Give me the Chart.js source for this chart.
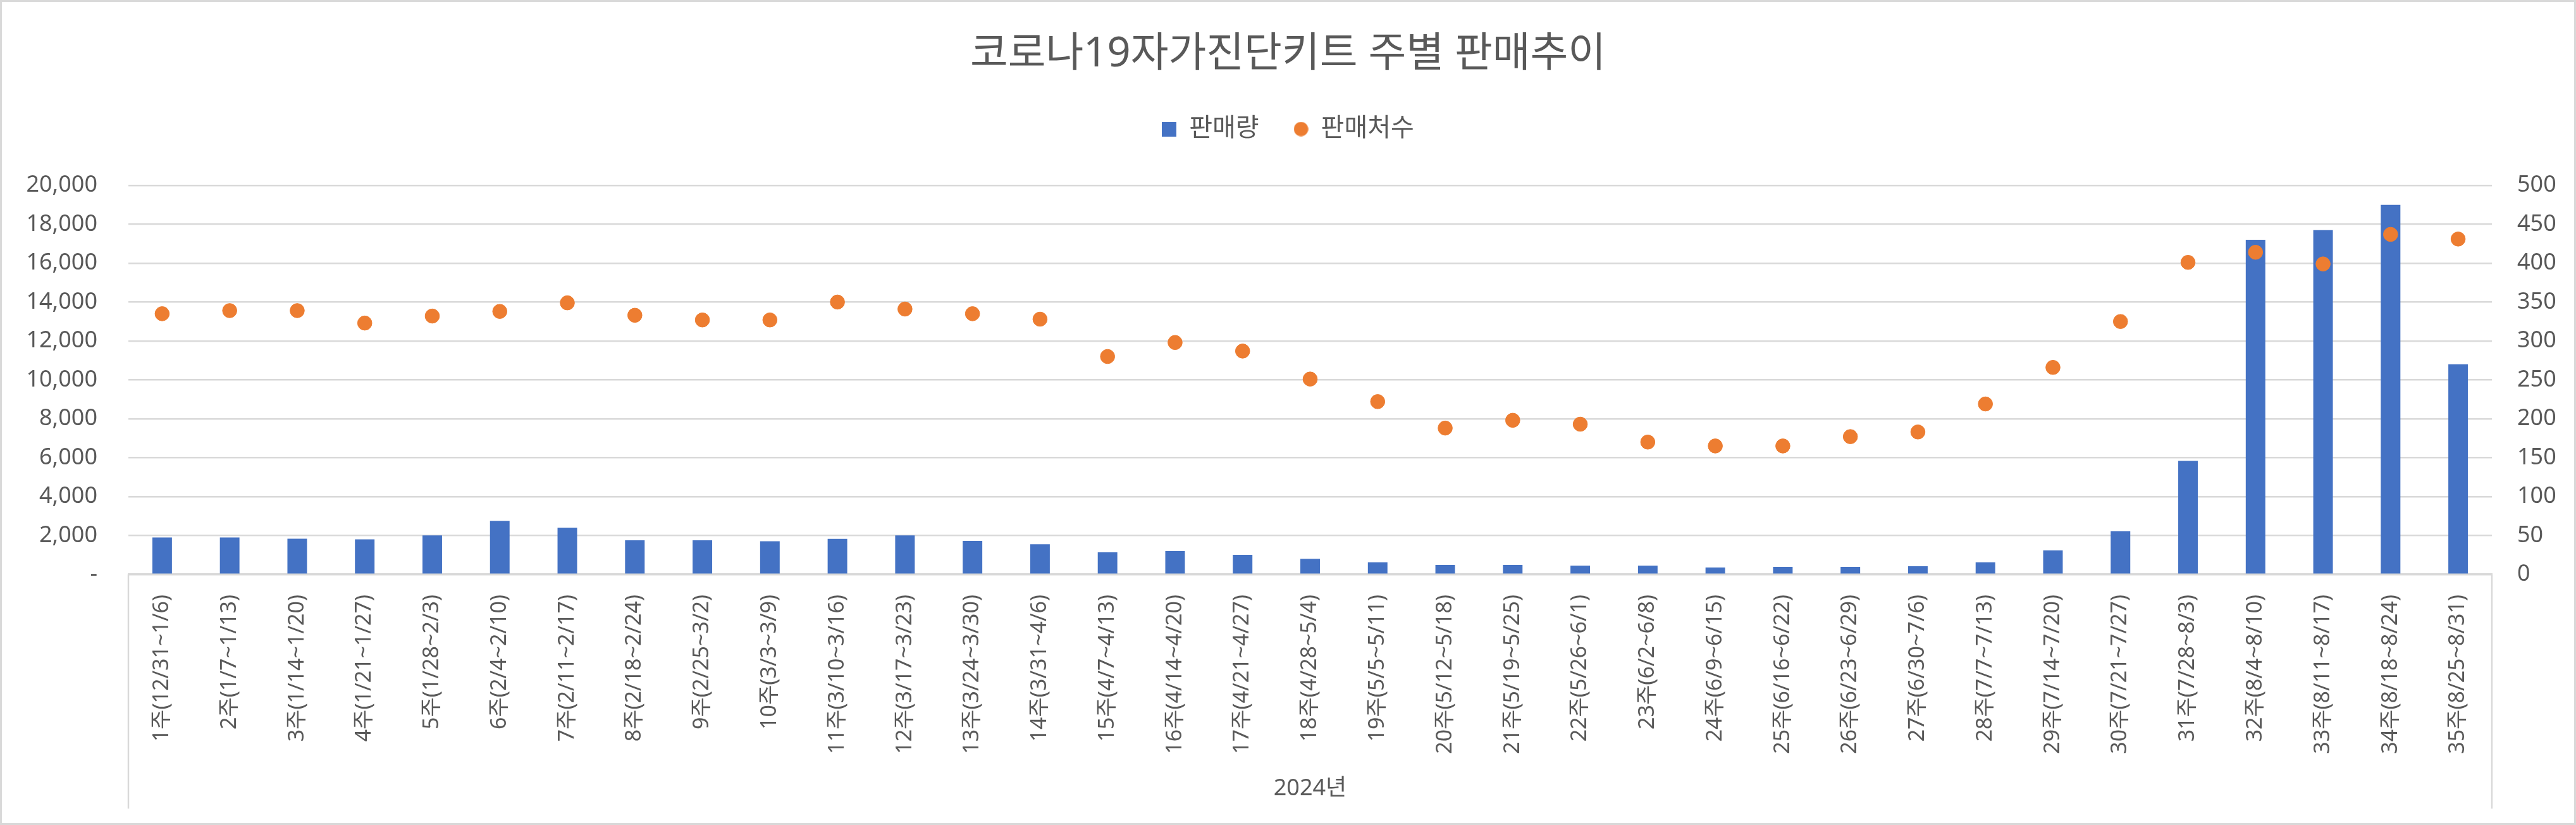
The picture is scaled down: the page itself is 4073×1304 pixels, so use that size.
<!DOCTYPE html>
<html lang="ko">
<head>
<meta charset="utf-8">
<title>코로나19자가진단키트 주별 판매추이</title>
<script src="https://cdn.jsdelivr.net/npm/chart.js@4.4.1/dist/chart.umd.min.js"></script>
<style>
  body { margin: 0; background: #fff; }
  #wrap { width: 4067px; height: 1298px; border: 3px solid #d9d9d9; }
</style>
</head>
<body>
<div id="wrap"><canvas id="salesChart" width="4067" height="1298"></canvas></div>
<script>
var weeks = [
    '1주(12/31~1/6)', '2주(1/7~1/13)', '3주(1/14~1/20)', '4주(1/21~1/27)', '5주(1/28~2/3)',
    '6주(2/4~2/10)', '7주(2/11~2/17)', '8주(2/18~2/24)', '9주(2/25~3/2)', '10주(3/3~3/9)',
    '11주(3/10~3/16)', '12주(3/17~3/23)', '13주(3/24~3/30)', '14주(3/31~4/6)', '15주(4/7~4/13)',
    '16주(4/14~4/20)', '17주(4/21~4/27)', '18주(4/28~5/4)', '19주(5/5~5/11)', '20주(5/12~5/18)',
    '21주(5/19~5/25)', '22주(5/26~6/1)', '23주(6/2~6/8)', '24주(6/9~6/15)', '25주(6/16~6/22)',
    '26주(6/23~6/29)', '27주(6/30~7/6)', '28주(7/7~7/13)', '29주(7/14~7/20)', '30주(7/21~7/27)',
    '31주(7/28~8/3)', '32주(8/4~8/10)', '33주(8/11~8/17)', '34주(8/18~8/24)', '35주(8/25~8/31)'
];

// 판매량 (left axis)
var salesVolume = [
    1900, 1900, 1830, 1800, 2000, 2750, 2400, 1750, 1750, 1700,
    1820, 2000, 1720, 1550, 1130, 1200, 1000, 800, 620, 480,
    480, 450, 450, 350, 380, 380, 420, 620, 1230, 2220,
    5830, 17200, 17700, 19000, 10800
];

// 판매처수 (right axis)
var storeCount = [
    335, 339, 339, 323, 332, 338, 349, 333, 327, 327,
    350, 341, 335, 328, 280, 298, 287, 251, 222, 188,
    198, 193, 170, 165, 165, 177, 183, 219, 266, 325,
    401, 414, 399, 437, 431
];

var yearLabel = '2024년';

var blue = '#4472C4';
var orange = '#ED7D31';
var textColor = '#595959';
var lineColor = '#d9d9d9';

function legendIcon(color, round) {
    var c = document.createElement('canvas');
    c.width = 23;
    c.height = 23;
    var g = c.getContext('2d');
    g.fillStyle = color;
    if (round) {
        g.beginPath();
        g.arc(11.5, 11.5, 11.3, 0, Math.PI * 2);
        g.fill();
    } else {
        g.fillRect(0, 0, 23, 23);
    }
    return c;
}
var icons = [legendIcon(blue, false), legendIcon(orange, true)];

// side lines of the category box under the plot
var categoryBox = {
    id: 'categoryBox',
    afterDraw: function(chart) {
        var ctx = chart.ctx;
        var area = chart.chartArea;
        var bottom = chart.scales.x.bottom + 10;
        ctx.save();
        ctx.strokeStyle = lineColor;
        ctx.lineWidth = 2.5;
        ctx.beginPath();
        ctx.moveTo(area.left, area.bottom);
        ctx.lineTo(area.left, bottom);
        ctx.moveTo(area.right, area.bottom);
        ctx.lineTo(area.right, bottom);
        ctx.stroke();
        ctx.restore();
    }
};

Chart.defaults.font.family = "'Noto Sans', 'Noto Sans CJK KR', sans-serif";
Chart.defaults.color = textColor;

var ctx = document.getElementById('salesChart').getContext('2d');

var salesChart = new Chart(ctx, {
    data: {
        labels: weeks,
        datasets: [{
            type: 'line',
            label: '판매처수',
            data: storeCount,
            yAxisID: 'y1',
            showLine: false,
            pointRadius: 11.3,
            pointHoverRadius: 11.3,
            pointBackgroundColor: orange,
            pointBorderColor: orange,
            backgroundColor: orange,
            borderColor: orange,
            order: 1
        }, {
            type: 'bar',
            label: '판매량',
            data: salesVolume,
            yAxisID: 'y',
            backgroundColor: blue,
            categoryPercentage: 1,
            barPercentage: 0.29,
            order: 2
        }]
    },
    options: {
        responsive: false,
        animation: false,
        layout: {
            padding: { left: 0, right: 0, top: 0, bottom: 33 }
        },
        plugins: {
            title: {
                display: true,
                text: '코로나19자가진단키트 주별 판매추이',
                color: textColor,
                font: { size: 65, weight: 'normal' },
                padding: { top: 44, bottom: 4 }
            },
            legend: {
                position: 'top',
                weight: 1800,
                reverse: true,
                labels: {
                    usePointStyle: true,
                    boxWidth: 23,
                    boxHeight: 23,
                    padding: 55,
                    color: textColor,
                    font: { size: 40 },
                    generateLabels: function(chart) {
                        var items = Chart.defaults.plugins.legend.labels.generateLabels(chart);
                        items.forEach(function(item) {
                            item.pointStyle = icons[item.datasetIndex === 1 ? 0 : 1];
                        });
                        return items;
                    }
                }
            },
            subtitle: {
                display: true,
                text: '',
                weight: 1200,
                font: { size: 10 },
                padding: { top: 47, bottom: 0 }
            },
            tooltip: { enabled: false }
        },
        scales: {
            x: {
                grid: { display: false },
                border: { display: true, color: lineColor, width: 3 },
                ticks: {
                    autoSkip: false,
                    minRotation: 90,
                    maxRotation: 90,
                    padding: 24,
                    color: textColor,
                    font: { size: 34 }
                },
                title: {
                    display: true,
                    text: yearLabel,
                    color: textColor,
                    font: { size: 36 },
                    padding: { top: 9, bottom: 0 }
                }
            },
            y: {
                position: 'left',
                min: 0,
                max: 20000,
                grid: { color: lineColor, lineWidth: 2.5, drawTicks: false },
                border: { display: false },
                ticks: {
                    stepSize: 2000,
                    padding: 49,
                    color: textColor,
                    font: { size: 36 },
                    callback: function(value) {
                        return value === 0 ? '-' : value.toLocaleString('en-US');
                    }
                },
                afterFit: function(scale) { scale.width = 200; }
            },
            y1: {
                position: 'right',
                min: 0,
                max: 500,
                grid: { display: false, drawTicks: false },
                border: { display: false },
                ticks: {
                    stepSize: 50,
                    padding: 40,
                    color: textColor,
                    font: { size: 36 }
                },
                afterFit: function(scale) { scale.width = 130; }
            }
        }
    },
    plugins: [categoryBox]
});
</script>
</body>
</html>
